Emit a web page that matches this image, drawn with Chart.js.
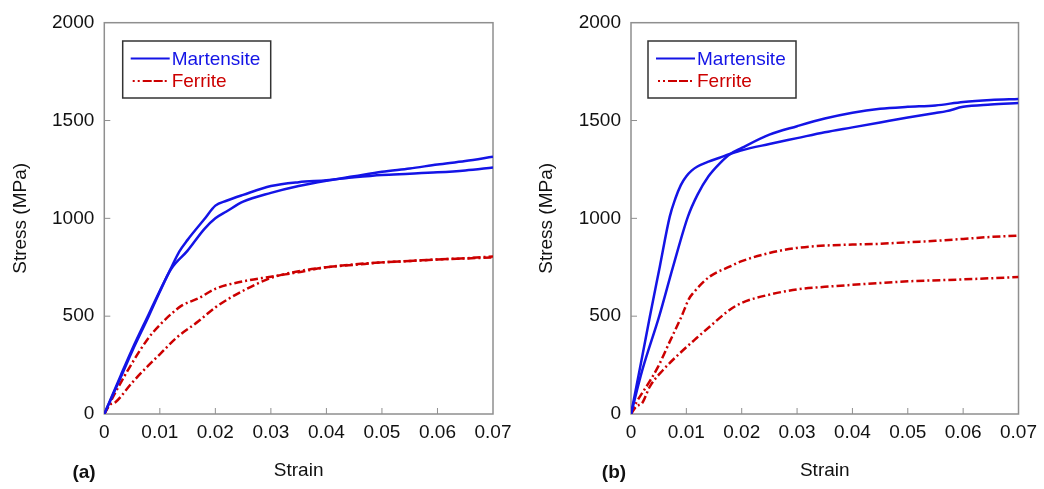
<!DOCTYPE html>
<html>
<head>
<meta charset="utf-8">
<script src="https://cdn.jsdelivr.net/npm/chart.js@4/dist/chart.umd.min.js"></script>
<style>
  html, body { margin: 0; padding: 0; background: #fff; }
  .panel { position: absolute; top: 0; width: 522px; height: 489px; }
</style>
</head>
<body>
<div class="panel" style="left:0"><canvas id="chartA" width="522" height="489"></canvas></div>
<div class="panel" style="left:522px"><canvas id="chartB" width="522" height="489"></canvas></div>
<script>
// tick labels
const xTickValues = [0, 0.01, 0.02, 0.03, 0.04, 0.05, 0.06, 0.07];
const xTickLabels = ['0', '0.01', '0.02', '0.03', '0.04', '0.05', '0.06', '0.07'];
const yTickValues = [0, 500, 1000, 1500, 2000];
const yTickLabels = ['0', '500', '1000', '1500', '2000'];

// panel (a)
const strainMartA1 = [0, 0.003, 0.005, 0.008, 0.01, 0.012, 0.0135, 0.015, 0.018, 0.02, 0.022, 0.025, 0.03, 0.035, 0.04, 0.045, 0.05, 0.055, 0.06, 0.065, 0.07];
const stressMartA1 = [0, 200, 330, 510, 630, 745, 830, 890, 995, 1065, 1090, 1120, 1165, 1185, 1195, 1210, 1222, 1228, 1235, 1245, 1260];
const strainMartA2 = [0, 0.003, 0.005, 0.008, 0.01, 0.012, 0.015, 0.018, 0.02, 0.022, 0.025, 0.03, 0.035, 0.04, 0.045, 0.05, 0.055, 0.06, 0.065, 0.07];
const stressMartA2 = [0, 190, 320, 500, 625, 740, 835, 945, 1000, 1035, 1085, 1130, 1165, 1192, 1215, 1238, 1255, 1275, 1293, 1315];
const strainFerA1 = [0, 0.002, 0.005, 0.008, 0.01, 0.012, 0.014, 0.017, 0.02, 0.025, 0.03, 0.035, 0.04, 0.045, 0.05, 0.055, 0.06, 0.065, 0.07];
const stressFerA1 = [0, 110, 260, 390, 455, 510, 555, 592, 640, 678, 702, 725, 750, 762, 775, 782, 790, 796, 805];
const strainFerA2 = [0, 0.001, 0.002, 0.005, 0.008, 0.01, 0.013, 0.017, 0.02, 0.025, 0.03, 0.035, 0.04, 0.045, 0.05, 0.055, 0.06, 0.065, 0.07];
const stressFerA2 = [0, 46, 60, 160, 250, 305, 390, 475, 545, 630, 695, 730, 750, 765, 775, 782, 790, 795, 800];

// panel (b)
const strainMartB1 = [0, 0.002, 0.0034, 0.0052, 0.007, 0.008, 0.009, 0.01, 0.011, 0.012, 0.014, 0.016, 0.018, 0.02, 0.025, 0.03, 0.035, 0.04, 0.045, 0.05, 0.055, 0.057, 0.06, 0.065, 0.07];
const stressMartB1 = [0, 290, 497, 753, 1009, 1100, 1170, 1215, 1245, 1265, 1290, 1310, 1330, 1348, 1380, 1410, 1440, 1465, 1490, 1515, 1538, 1548, 1570, 1582, 1590];
const strainMartB2 = [0, 0.002, 0.0051, 0.0076, 0.0103, 0.012, 0.014, 0.016, 0.018, 0.02, 0.025, 0.03, 0.035, 0.04, 0.045, 0.05, 0.055, 0.06, 0.065, 0.07];
const stressMartB2 = [0, 220, 500, 753, 1010, 1120, 1215, 1280, 1330, 1360, 1428, 1471, 1510, 1540, 1560, 1570, 1577, 1595, 1605, 1610];
const strainFerB1 = [0, 0.001, 0.003, 0.0049, 0.007, 0.0091, 0.0105, 0.0112, 0.0142, 0.0178, 0.02, 0.025, 0.03, 0.035, 0.04, 0.045, 0.05, 0.055, 0.06, 0.065, 0.07];
const stressFerB1 = [0, 60, 150, 242, 370, 497, 590, 617, 702, 753, 781, 823, 849, 861, 866, 870, 878, 885, 895, 905, 912];
const strainFerB2 = [0, 0.001, 0.002, 0.0034, 0.0058, 0.0088, 0.0118, 0.0142, 0.0178, 0.02, 0.025, 0.03, 0.035, 0.04, 0.05, 0.06, 0.07];
const stressFerB2 = [0, 40, 55, 140, 225, 310, 387, 446, 532, 568, 610, 637, 650, 660, 678, 688, 700];

const FONT = '"Liberation Sans", Arial, sans-serif';
const BLUE = '#1414e6';
const RED = '#cc0000';
const FERRITE_DASH = [8, 3, 2, 3];

function pts(xs, ys) {
  return xs.map((x, i) => ({ x: x, y: ys[i] }));
}

function line(xs, ys, color, dash) {
  return {
    data: pts(xs, ys),
    borderColor: color,
    borderWidth: 2.5,
    borderDash: dash || [],
    pointRadius: 0,
    cubicInterpolationMode: 'monotone',
    fill: false
  };
}

// frame, inward ticks, legend box and panel label
const framePlugin = {
  id: 'frame',
  beforeDatasetsDraw(chart) {
    const { ctx, chartArea: a, scales: { x, y } } = chart;
    ctx.save();
    ctx.strokeStyle = '#8f8f8f';
    ctx.lineWidth = 1.5;
    ctx.strokeRect(a.left, a.top, a.right - a.left, a.bottom - a.top);
    ctx.lineWidth = 1;
    xTickValues.slice(1, -1).forEach(v => {
      const px = x.getPixelForValue(v);
      ctx.beginPath();
      ctx.moveTo(px, a.bottom);
      ctx.lineTo(px, a.bottom - 6);
      ctx.stroke();
    });
    yTickValues.slice(1, -1).forEach(v => {
      const py = y.getPixelForValue(v);
      ctx.beginPath();
      ctx.moveTo(a.left, py);
      ctx.lineTo(a.left + 6, py);
      ctx.stroke();
    });
    ctx.restore();
  },
  afterDraw(chart, args, opts) {
    const ctx = chart.ctx;
    const L = opts.legendLeft, T = 41;
    ctx.save();
    ctx.fillStyle = '#fff';
    ctx.fillRect(L, T, 148, 57);
    ctx.strokeStyle = '#333';
    ctx.lineWidth = 1.5;
    ctx.strokeRect(L, T, 148, 57);

    ctx.lineWidth = 2.2;
    ctx.strokeStyle = BLUE;
    ctx.beginPath();
    ctx.moveTo(L + 8, T + 17.5);
    ctx.lineTo(L + 47, T + 17.5);
    ctx.stroke();

    ctx.strokeStyle = RED;
    ctx.setLineDash([2, 3, 2, 3, 9, 2, 9, 2]);
    ctx.beginPath();
    ctx.moveTo(L + 10, T + 40);
    ctx.lineTo(L + 47, T + 40);
    ctx.stroke();
    ctx.setLineDash([]);

    ctx.font = '19px ' + FONT;
    ctx.textBaseline = 'middle';
    ctx.textAlign = 'left';
    ctx.fillStyle = BLUE;
    ctx.fillText('Martensite', L + 49, T + 19);
    ctx.fillStyle = RED;
    ctx.fillText('Ferrite', L + 49, T + 41);

    ctx.font = 'bold 19px ' + FONT;
    ctx.fillStyle = '#111';
    ctx.textAlign = 'center';
    ctx.fillText(opts.label, opts.labelX, 473);
    ctx.restore();
  }
};

function makeChart(id, datasets, cfg) {
  new Chart(document.getElementById(id), {
    type: 'line',
    data: { datasets: datasets },
    plugins: [framePlugin],
    options: {
      responsive: false,
      animation: false,
      layout: { padding: { left: 0, right: cfg.padRight, top: 22.7, bottom: 0 } },
      plugins: {
        legend: { display: false },
        tooltip: { enabled: false },
        frame: { label: cfg.label, labelX: cfg.labelX, legendLeft: cfg.legendLeft }
      },
      scales: {
        x: {
          type: 'linear',
          min: 0,
          max: 0.07,
          afterBuildTicks: s => { s.ticks = xTickValues.map(v => ({ value: v })); },
          afterFit: s => { s.height = 75; },
          grid: { display: false, drawTicks: false },
          border: { display: false },
          ticks: {
            padding: 7,
            color: '#111',
            font: { family: FONT, size: 19 },
            maxRotation: 0,
            autoSkip: false,
            callback: (v, i) => xTickLabels[i]
          },
          title: {
            display: true,
            text: 'Strain',
            color: '#111',
            font: { family: FONT, size: 19 },
            padding: { top: 0, bottom: 7 }
          }
        },
        y: {
          type: 'linear',
          min: 0,
          max: 2000,
          afterBuildTicks: s => { s.ticks = yTickValues.map(v => ({ value: v })); },
          afterFit: s => { s.width = cfg.yWidth; },
          grid: { display: false, drawTicks: false },
          border: { display: false },
          ticks: {
            padding: 10,
            color: '#111',
            font: { family: FONT, size: 19 },
            autoSkip: false,
            callback: (v, i) => yTickLabels[i]
          },
          title: {
            display: true,
            text: 'Stress (MPa)',
            color: '#111',
            font: { family: FONT, size: 19 },
            padding: { top: cfg.yTitlePad, bottom: 0 }
          }
        }
      }
    }
  });
}

makeChart('chartA', [
  line(strainMartA1, stressMartA1, BLUE),
  line(strainMartA2, stressMartA2, BLUE),
  line(strainFerA1, stressFerA1, RED, FERRITE_DASH),
  line(strainFerA2, stressFerA2, RED, FERRITE_DASH)
], { padRight: 29, yWidth: 104.3, yTitlePad: 9, label: '(a)', labelX: 84, legendLeft: 122.7 });

makeChart('chartB', [
  line(strainMartB1, stressMartB1, BLUE),
  line(strainMartB2, stressMartB2, BLUE),
  line(strainFerB1, stressFerB1, RED, FERRITE_DASH),
  line(strainFerB2, stressFerB2, RED, FERRITE_DASH)
], { padRight: 24.7, yWidth: 109, yTitlePad: 13.5, label: '(b)', labelX: 92, legendLeft: 126 });
</script>
</body>
</html>
